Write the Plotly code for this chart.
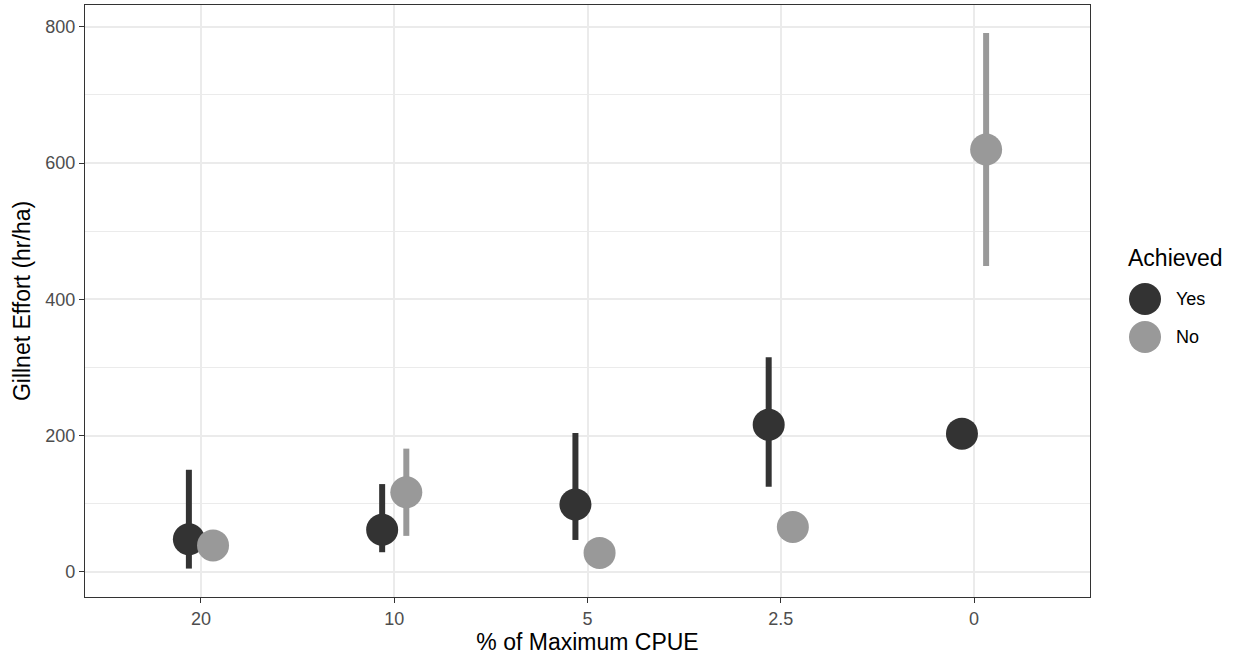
import plotly.graph_objects as go

categories = ["20", "10", "5", "2.5", "0"]
groups = ["Yes", "No"]
yes_mean = [48, 62, 99, 216, 203]
yes_low = [5, 29, 47, 125, None]
yes_high = [150, 129, 204, 315, None]
no_mean = [39, 117, 28, 66, 620]
no_low = [None, 53, None, None, 449]
no_high = [None, 181, None, None, 791]
colors = {"Yes": "#333333", "No": "#999999"}

FONT = "Liberation Sans, Arial, sans-serif"
dodge = 0.0625

fig = go.Figure()

series = {
    "Yes": (yes_mean, yes_low, yes_high, -dodge),
    "No": (no_mean, no_low, no_high, dodge),
}

for g in groups:
    mean, low, high, off = series[g]
    xs = [i + 1 + off for i in range(len(categories))]
    lx, ly = [], []
    for x, lo, hi in zip(xs, low, high):
        if lo is None or hi is None:
            continue
        lx += [x, x, None]
        ly += [lo, hi, None]
    fig.add_trace(go.Scatter(x=lx, y=ly, mode="lines",
                             line=dict(color=colors[g], width=6),
                             showlegend=False, hoverinfo="skip"))
    fig.add_trace(go.Scatter(x=xs, y=mean, mode="markers", name=g,
                             marker=dict(color=colors[g], size=32, line=dict(width=0)),
                             showlegend=False))

# manual legend (ggplot-like, large keys)
L, R, T, B = 85, 1090, 5, 597
W, H = R - L, B - T
def px(x):
    return (x - L) / W
def py(y):
    return (B - y) / H

fig.add_annotation(x=px(1126), y=py(258), xref="paper", yref="paper",
                   text="Achieved", showarrow=False, xanchor="left", yanchor="middle",
                   font=dict(family=FONT, size=23, color="#000000"))
for g, yy in zip(groups, [299, 337]):
    fig.add_shape(type="circle", xref="paper", yref="paper",
                  xsizemode="pixel", ysizemode="pixel",
                  xanchor=px(1145), yanchor=py(yy),
                  x0=-16, x1=16, y0=-16, y1=16,
                  fillcolor=colors[g], line=dict(width=0))
    fig.add_annotation(x=px(1174), y=py(yy), xref="paper", yref="paper",
                       text=g, showarrow=False, xanchor="left", yanchor="middle",
                       font=dict(family=FONT, size=18, color="#000000"))

fig.update_layout(
    width=1238, height=655,
    margin=dict(l=L, r=1238 - R, t=T, b=655 - B),
    plot_bgcolor="white", paper_bgcolor="white",
    font=dict(family=FONT, color="#000000"),
    showlegend=False,
)
fig.update_xaxes(
    range=[0.4, 5.6],
    tickvals=[i + 1 for i in range(len(categories))],
    ticktext=categories,
    showgrid=True, gridcolor="#EBEBEB", gridwidth=1.6,
    zeroline=False,
    showline=True, mirror=True, linecolor="#333333", linewidth=1.2,
    ticks="outside", ticklen=5, tickwidth=1.1, tickcolor="#333333",
    tickfont=dict(family=FONT, size=18, color="#4D4D4D"),
    title=dict(text="% of Maximum CPUE", font=dict(family=FONT, size=23, color="#000000"), standoff=5),
)
fig.update_yaxes(
    range=[-36.7, 832],
    tickvals=[0, 200, 400, 600, 800],
    showgrid=True, gridcolor="#EBEBEB", gridwidth=1.6,
    minor=dict(tickvals=[100, 300, 500, 700], showgrid=True, gridcolor="#EBEBEB", gridwidth=0.9, ticks=""),
    zeroline=False,
    showline=True, mirror=True, linecolor="#333333", linewidth=1.2,
    ticks="outside", ticklen=5, tickwidth=1.1, tickcolor="#333333",
    tickfont=dict(family=FONT, size=18, color="#4D4D4D"),
    title=dict(text="Gillnet Effort (hr/ha)", font=dict(family=FONT, size=23, color="#000000"), standoff=8),
)

fig.write_html("out.html")
